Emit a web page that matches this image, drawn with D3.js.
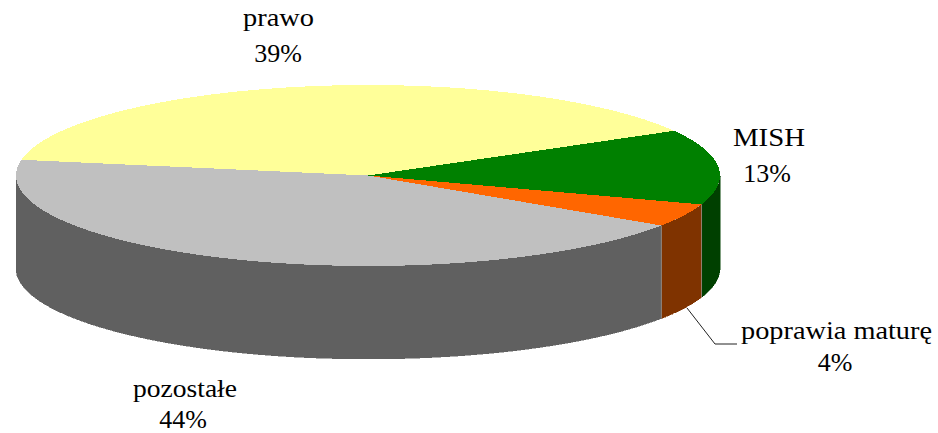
<!DOCTYPE html>
<html>
<head>
<meta charset="utf-8">
<script src="https://d3js.org/d3.v7.min.js"></script>
<style>
html, body { margin:0; padding:0; background:#fff; }
svg { display:block; }
text { font-family:"Liberation Serif", serif; font-size:26px; fill:#000; text-anchor:middle; }
</style>
</head>
<body>
<div id="chart-area"></div>
<script>
var categories = ["prawo", "MISH", "poprawia maturę", "pozostałe"];
var percentLabels = ["39%", "13%", "4%", "44%"];
var values = [39, 13.4, 4.14, 43.46];
var topColors = ["#ffff99", "#008000", "#ff6600", "#c0c0c0"];
var sideColors = ["#808040", "#004000", "#7f3300", "#606060"];

var width = 938, height = 433;
var cx = 368, cy = 175.5, rx = 352, ry = 90.5, depth = 93;

var svg = d3.select("#chart-area")
    .append("svg")
        .attr("width", width)
        .attr("height", height);

// Scales
var px = d3.scaleLinear().domain([-1, 1]).range([cx - rx, cx + rx]);
var py = d3.scaleLinear().domain([-1, 1]).range([cy - ry, cy + ry]);

var start = -80 * Math.PI / 180;
var arcs = d3.pie().sort(null)
    .startAngle(start)
    .endAngle(start + 2 * Math.PI)(values);

// Side walls, only the front half of the disc shows
var wall = d3.line();

function rim(a) {
    return [px(Math.sin(a)), py(-Math.cos(a))];
}

function wallPoints(a0, a1) {
    var n = Math.max(2, Math.ceil((a1 - a0) * 60));
    var front = d3.range(n + 1).map(function(i) {
        return rim(a0 + (a1 - a0) * i / n);
    });
    var back = front.slice().reverse().map(function(p) { return [p[0], p[1] + depth]; });
    return front.concat(back);
}

arcs.forEach(function(d, i) {
    var a0 = Math.max(d.startAngle, Math.PI / 2);
    var a1 = Math.min(d.endAngle, 3 * Math.PI / 2);
    if (a1 <= a0) return;
    svg.append("path")
        .attr("d", wall(wallPoints(a0, a1)) + "Z")
        .attr("fill", sideColors[i])
        .attr("stroke", sideColors[i])
        .attr("stroke-width", 0.5)
        .attr("shape-rendering", "crispEdges");
});

// Light seams between the walls
arcs.forEach(function(d) {
    if (d.startAngle <= Math.PI / 2 || d.startAngle >= 3 * Math.PI / 2) return;
    var p = rim(d.startAngle);
    svg.append("path")
        .attr("d", wall([p, [p[0], p[1] + depth]]))
        .attr("stroke", "#a0a0a0")
        .attr("stroke-width", 0.7);
});

// Top of the disc
var arc = d3.arc().innerRadius(0).outerRadius(rx);
var top3d = svg.append("g")
    .attr("transform", "translate(" + cx + "," + cy + ") scale(1," + (ry / rx) + ")");

top3d.selectAll("path")
    .data(arcs)
    .enter().append("path")
        .attr("d", arc)
        .attr("fill", function(d, i) { return topColors[i]; })
        .attr("shape-rendering", "crispEdges");

// Leader line for the small slice
var leader = [[687, 308], [715, 344], [737, 344]];
svg.append("path")
    .attr("d", d3.line()(leader))
    .attr("fill", "none")
    .attr("stroke", "#222")
    .attr("stroke-width", 1);

// Labels: name x, name baseline, name width, percent x, percent baseline
var labelPos = [
    [278.5, 26, 71, 278, 62],
    [769, 146, 72, 767, 182],
    [836.5, 339, 191, 835, 371],
    [185, 397, 104, 183, 428]
];
categories.forEach(function(name, i) {
    var p = labelPos[i];
    svg.append("text")
        .attr("x", p[0])
        .attr("y", p[1])
        .attr("textLength", p[2])
        .attr("lengthAdjust", "spacingAndGlyphs")
        .text(name);
    svg.append("text")
        .attr("x", p[3])
        .attr("y", p[4])
        .text(percentLabels[i]);
});
</script>
</body>
</html>
